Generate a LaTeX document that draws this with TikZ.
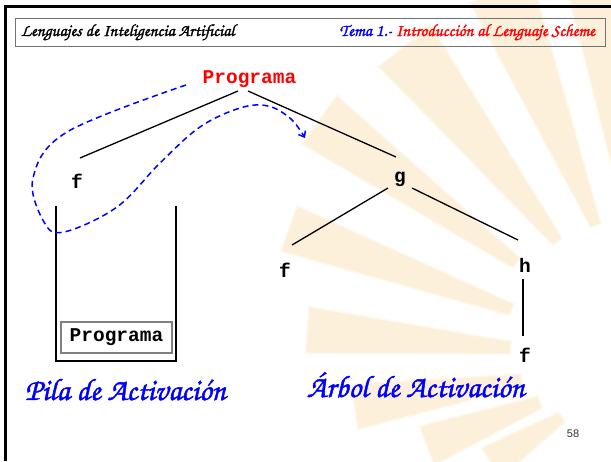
\documentclass[tikz,border=0pt]{standalone}
\usepackage{fontspec}
\usetikzlibrary{arrows.meta}
\setmainfont{Liberation Serif}
\newfontfamily\monob{Liberation Mono Bold}
\newfontfamily\sansf{Liberation Sans}
\newfontfamily\chanc{texgyrechorus-mediumitalic.otf}[FakeBold=1.5]
\definecolor{raycol}{RGB}{252,240,219}
\definecolor{pureblue}{RGB}{0,0,255}
\definecolor{purered}{RGB}{255,0,0}
\begin{document}
\begin{tikzpicture}[x=1pt,y=-1pt,
  every node/.style={inner sep=0pt,outer sep=0pt},
  term/.style={font={\monob\fontsize{19.5}{22}\selectfont},anchor=base},
  treeline/.style={draw=black,line width=1.3pt},
  stackwall/.style={draw=black,line width=1.8pt},
  flow/.style={draw=pureblue,line width=1.5pt,dash pattern=on 6pt off 4pt,
               -{Straight Barb[length=5pt,width=8pt]}},
  caption/.style={font={\chanc\fontsize{31}{34}\selectfont},text=pureblue,anchor=base west},
  hdrtext/.style={font={\chanc\fontsize{17.2}{20}\selectfont}}]
\useasboundingbox (0,0) rectangle (611,461);
\fill[white] (0,0) rectangle (611,461);

% faded sunburst in the background
\begin{scope}
  \clip (0,0) rectangle (611,461);
  \foreach \a/\ri/\ro/\wo/\wi in {98/150/420/4.8/2.2, 112/145/400/4.8/2.2,
      128/150/400/4.8/2.2, 144/165/410/4.2/2.2, 160/147/385/3.6/2.4,
      175/140/345/3.9/2.6, 189/130/300/4.4/2.8, 201/118/240/5/3.2,
      213/105/190/5.5/3.2}{
    \fill[raycol,draw=raycol!50!white,line width=1.5pt,shift={(650,360)}]
      (-\a-\wi:\ri) -- (-\a-\wo:\ro) -- (-\a+\wo:\ro) -- (-\a+\wi:\ri) -- cycle;
  }
\end{scope}

% slide frame and header
\draw[black,line width=3pt] (5,461) -- (5,6.5) -- (611,6.5);
\draw[black!55,line width=1pt] (15,18) rectangle (605,46);
\node[hdrtext,anchor=base west] (title) at (21,36) {Lenguajes de Inteligencia Artificial};
\node[hdrtext,anchor=base east] (topic) at (595,36)
  {\textcolor{pureblue}{Tema 1.-} \textcolor{purered}{Introducción al Lenguaje Scheme}};

% activation tree
\node[term,text=purered] (prog) at (249.5,83.5) {Programa};
\node[term] (f1) at (77,188) {f};
\node[term] (g) at (400,182) {g};
\node[term] (f2) at (285,277) {f};
\node[term] (h) at (525,272) {h};
\node[term] (f3) at (525,362) {f};

\draw[treeline] ([shift={(-11.5,7.5)}]prog.base) -- ([shift={(3,-30)}]f1.base);
\draw[treeline] ([shift={(-1.5,7.5)}]prog.base) -- ([shift={(-4,-25)}]g.base);
\draw[treeline] ([shift={(-12,6)}]g.base) -- ([shift={(7,-32)}]f2.base);
\draw[treeline] ([shift={(12,6)}]g.base) -- ([shift={(-7,-32)}]h.base);
\draw[treeline] ([shift={(-2,7)}]h.base) -- ([shift={(-2,-26)}]f3.base);

% activation stack
\draw[stackwall] (56,206) -- (56,361) -- (176,361) -- (176,206);
\node[draw=black!50,line width=1.2pt,minimum width=111pt,minimum height=31pt,
      font={\monob\fontsize{19.5}{22}\selectfont}] (stackprog) at (116.5,337.5) {Programa};

% control flow from the program into the call of g
\coordinate (d0) at (186,85);
\coordinate (d1) at (67,132);
\coordinate (d2) at (33,178);
\coordinate (d3) at (44,222);
\coordinate (d4) at (64,232);
\coordinate (d5) at (117,207);
\coordinate (d6) at (160,163);
\coordinate (d7) at (200,127);
\coordinate (d8) at (240,108);
\coordinate (d9) at (268,106);
\coordinate (d10) at (291,119);
\coordinate (d11) at (305,138);
\draw[flow] plot[smooth,tension=0.6] coordinates
  {(d0) (d1) (d2) (d3) (d4) (d5) (d6) (d7) (d8) (d9) (d10) (d11)};

% captions
\node[caption] (pila) at (25,400) {Pila de Activación};
\node[caption] (arbol) at (307,397) {Árbol de Activación};
\node[font={\sansf\fontsize{11}{13}\selectfont},text=black!80] (page) at (573,434) {58};
\end{tikzpicture}
\end{document}
